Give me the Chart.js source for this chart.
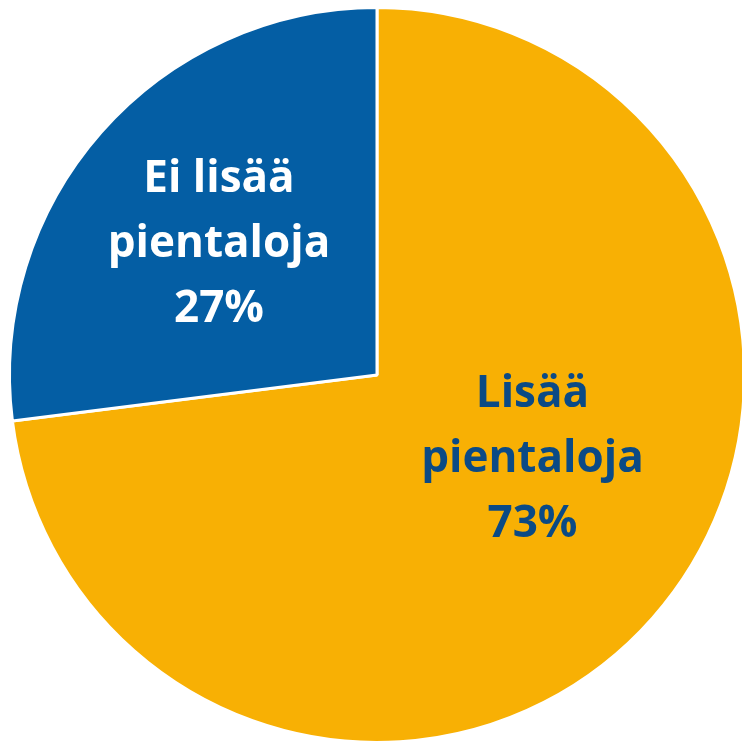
<!DOCTYPE html>
<html>
<head>
<meta charset="utf-8">
<script src="https://cdn.jsdelivr.net/npm/chart.js@4"></script>
<style>
  html, body { margin: 0; padding: 0; background: #fff; overflow: hidden; }
  #wrap { position: relative; width: 754px; height: 750px; }
</style>
</head>
<body>
<div id="wrap"><canvas id="pie"></canvas></div>
<script>
'use strict';

const labels = ['Lisää pientaloja', 'Ei lisää pientaloja'];
const shares = [73, 27];
const sliceColors = ['#F8B004', '#045EA4'];
const textColors = ['#0B4A85', '#FFFFFF'];
// label anchor (baseline of the middle line), as a fraction of the pie radius from its centre
const labelAnchors = [[0.423, 0.264], [-0.43, -0.322]];

const sliceLabels = {
    id: 'sliceLabels',
    afterDatasetsDraw(chart) {
        const ctx = chart.ctx;
        const meta = chart.getDatasetMeta(0);
        meta.data.forEach((arc, i) => {
            const r = arc.outerRadius;
            const x = arc.x + labelAnchors[i][0] * r;
            const y = arc.y + labelAnchors[i][1] * r;
            const words = labels[i].split(' ');
            const first = words.slice(0, -1).join(' ');
            const lines = [first, words[words.length - 1], shares[i] + '%'];
            ctx.save();
            ctx.fillStyle = textColors[i];
            ctx.font = 'bold 44px "Open Sans", Lato, sans-serif';
            ctx.textAlign = 'center';
            ctx.textBaseline = 'alphabetic';
            lines.forEach((t, k) => ctx.fillText(t, x, y + (k - 1) * 65));
            ctx.restore();
        });
    }
};

new Chart(document.getElementById('pie').getContext('2d'), {
    type: 'pie',
    data: {
        labels: labels,
        datasets: [{
            data: shares,
            backgroundColor: sliceColors,
            borderColor: '#FFFFFF',
            borderWidth: 3
        }]
    },
    options: {
        responsive: true,
        maintainAspectRatio: false,
        animation: false,
        layout: { padding: { top: 6, bottom: 6, left: 8, right: 8 } },
        plugins: {
            legend: { display: false },
            tooltip: { enabled: false }
        }
    },
    plugins: [sliceLabels]
});
</script>
</body>
</html>
